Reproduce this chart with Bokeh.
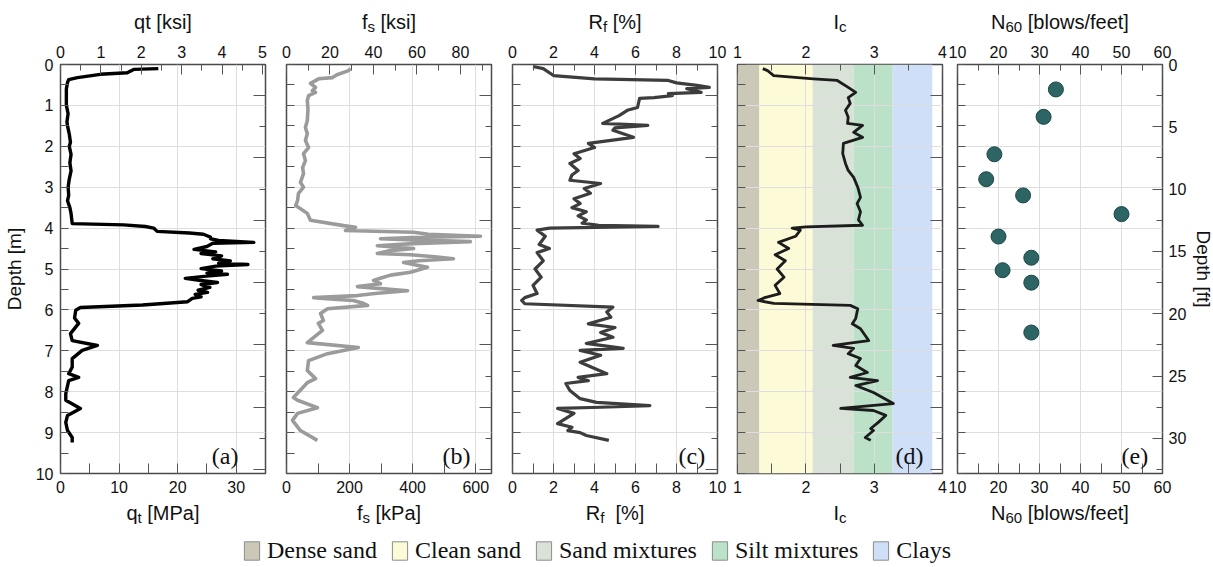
from bokeh.plotting import figure
from bokeh.models import (Range1d, LinearAxis, FixedTicker, Label, Legend, LegendItem,
                          CustomJSTickFormatter, ColumnDataSource)
from bokeh.core.properties import value
from bokeh.layouts import row, column
from bokeh.embed import file_html
from bokeh.resources import INLINE

# ---------------- data ----------------
qt_depth = [0.10, 0.12, 0.20, 0.24, 0.32, 0.37, 0.44, 0.60, 0.80, 1.00, 1.20, 1.40, 1.50, 1.70,
            1.90, 2.00, 2.20, 2.40, 2.60, 2.80, 3.00, 3.20, 3.33, 3.50, 3.64, 3.89, 3.92, 3.96,
            4.00, 4.08, 4.12, 4.15, 4.22, 4.26, 4.30, 4.35, 4.37, 4.45, 4.52, 4.58, 4.62, 4.68,
            4.75, 4.80, 4.86, 4.89, 4.93, 4.99, 5.05, 5.10, 5.13, 5.18, 5.23, 5.28, 5.33, 5.38,
            5.45, 5.52, 5.57, 5.62, 5.68, 5.72, 5.80, 5.88, 5.94, 6.01, 6.20, 6.33, 6.58, 6.75,
            6.87, 6.99, 7.19, 7.40, 7.56, 7.65, 7.73, 8.05, 8.21, 8.41, 8.58, 8.75, 8.95, 9.12, 9.24]
qt_mpa = [16.7, 12.5, 11.4, 6.8, 2.9, 1.4, 1.2, 1.0, 1.0, 1.0, 1.3, 1.1, 1.2, 1.5,
          1.7, 1.5, 1.8, 1.6, 1.8, 1.5, 1.3, 1.4, 1.2, 1.6, 1.8, 2.0, 10.8, 14.5,
          15.9, 16.5, 22.0, 24.4, 25.6, 25.6, 27.0, 33.0, 26.0, 25.0, 22.8, 26.5, 24.0, 27.5,
          26.0, 29.0, 27.0, 32.0, 26.5, 24.0, 27.5, 25.0, 28.5, 24.5, 21.3, 24.0, 26.8, 24.0,
          25.5, 23.5, 25.1, 23.0, 24.0, 22.5, 21.7, 14.0, 3.4, 2.6, 2.4, 3.1, 1.7, 2.0,
          6.3, 3.7, 2.0, 2.0, 1.4, 3.1, 1.4, 0.9, 0.9, 3.4, 1.2, 0.9, 1.2, 2.0, 2.0]

fs_depth = [0.10, 0.15, 0.25, 0.32, 0.35, 0.46, 0.56, 0.64, 0.68, 0.76, 0.88, 1.10, 1.37, 1.54,
            1.69, 1.86, 2.03, 2.18, 2.35, 2.52, 2.67, 2.88, 3.00, 3.15, 3.33, 3.45, 3.64, 3.81,
            3.94, 3.98, 4.06, 4.10, 4.15, 4.20, 4.23, 4.26, 4.30, 4.33, 4.38, 4.43, 4.47, 4.50,
            4.55, 4.62, 4.65, 4.70, 4.75, 4.80, 4.84, 4.90, 4.96, 5.02, 5.08, 5.15, 5.22, 5.28,
            5.36, 5.43, 5.48, 5.53, 5.60, 5.65, 5.70, 5.74, 5.77, 5.83, 5.89, 5.97, 6.09, 6.26,
            6.33, 6.50, 6.80, 6.92, 7.07, 7.24, 7.48, 7.68, 7.78, 8.14, 8.21, 8.39, 8.53, 8.70,
            8.95, 9.19]
fs_kpa = [203, 197, 160, 146, 102, 76, 92, 82, 92, 70, 66, 68, 66, 60,
          66, 60, 70, 54, 60, 51, 54, 44, 54, 38, 35, 29, 66, 76,
          181, 219, 187, 403, 450, 615, 400, 298, 450, 583, 400, 288, 350, 403,
          330, 288, 393, 470, 529, 420, 371, 410, 447, 420, 393, 330, 300, 276,
          298, 225, 300, 384, 280, 225, 86, 150, 212, 240, 257, 130, 108, 117,
          101, 114, 66, 228, 130, 70, 66, 92, 66, 22, 35, 98, 35, 19,
          44, 98]

rf_depth = [0.05, 0.10, 0.27, 0.35, 0.39, 0.45, 0.51, 0.56, 0.59, 0.68, 0.71, 0.76, 0.81, 0.83,
            1.05, 1.12, 1.25, 1.44, 1.49, 1.55, 1.61, 1.78, 1.93, 2.03, 2.18, 2.30, 2.42, 2.59,
            2.70, 2.83, 2.91, 3.03, 3.15, 3.28, 3.40, 3.50, 3.60, 3.70, 3.80, 3.88, 3.93, 3.96,
            4.00, 4.05, 4.20, 4.40, 4.50, 4.60, 4.80, 5.00, 5.20, 5.40, 5.60, 5.70, 5.77, 5.85,
            5.93, 6.05, 6.18, 6.34, 6.43, 6.55, 6.67, 6.82, 6.94, 6.99, 7.11, 7.28, 7.56, 7.65,
            7.73, 7.80, 7.97, 8.17, 8.26, 8.34, 8.38, 8.41, 8.53, 8.78, 8.87, 8.95, 9.00, 9.07, 9.19]
rf_pct = [1.0, 1.5, 2.0, 4.0, 7.6, 8.0, 9.0, 9.6, 8.5, 9.2, 7.6, 7.8, 6.9, 6.2,
          6.1, 5.6, 5.2, 4.4, 6.6, 5.0, 4.9, 5.9, 3.7, 4.0, 3.0, 3.3, 2.8, 3.2,
          2.9, 2.8, 4.3, 3.5, 3.8, 3.0, 3.3, 2.9, 3.6, 3.2, 3.6, 3.4, 4.2, 7.1,
          1.8, 1.2, 1.6, 1.3, 1.8, 1.2, 1.5, 1.1, 1.4, 1.0, 1.2, 0.6, 0.45, 0.6,
          4.9, 4.6, 4.8, 3.7, 5.0, 4.3, 4.9, 3.6, 5.4, 3.3, 4.3, 3.3, 4.6, 3.2,
          3.7, 2.6, 2.8, 3.3, 4.1, 6.7, 4.3, 2.2, 3.0, 2.2, 2.9, 2.7, 3.3, 3.6, 4.7]

ic_depth = [0.10, 0.15, 0.27, 0.35, 0.39, 0.56, 0.68, 0.81, 0.95, 1.12, 1.29, 1.44, 1.49, 1.66,
            1.78, 1.93, 2.18, 2.42, 2.59, 2.76, 3.00, 3.25, 3.40, 3.60, 3.80, 3.93, 3.97, 4.00,
            4.05, 4.20, 4.35, 4.50, 4.65, 4.80, 5.00, 5.20, 5.40, 5.60, 5.70, 5.77, 5.84, 5.89,
            5.97, 6.21, 6.34, 6.46, 6.75, 6.87, 6.94, 7.07, 7.19, 7.36, 7.53, 7.65, 7.73, 7.85,
            8.02, 8.29, 8.41, 8.46, 8.58, 8.75, 8.90, 8.95, 9.12, 9.19]
ic_val = [1.37, 1.44, 1.53, 2.11, 2.46, 2.62, 2.73, 2.62, 2.65, 2.58, 2.62, 2.61, 2.83, 2.70,
          2.83, 2.55, 2.54, 2.58, 2.62, 2.70, 2.76, 2.80, 2.75, 2.80, 2.77, 2.83, 2.00, 1.80,
          1.92, 1.85, 1.60, 1.75, 1.55, 1.70, 1.58, 1.68, 1.55, 1.62, 1.40, 1.30, 1.53, 2.65,
          2.76, 2.73, 2.68, 2.80, 2.92, 2.40, 2.70, 2.62, 2.80, 2.73, 2.90, 2.65, 3.05, 2.73,
          2.99, 3.28, 2.51, 2.99, 3.17, 3.06, 2.95, 2.99, 2.87, 2.95]

n60_depth_ft = [2.0, 4.2, 7.2, 9.2, 10.5, 12.0, 13.8, 15.5, 16.5, 17.5, 21.5]
n60_blows = [34, 31, 19, 17, 26, 50, 20, 28, 21, 28, 28]

zone_names = ["Dense sand", "Clean sand", "Sand mixtures", "Silt mixtures", "Clays"]
zone_ic_lo = [1.0, 1.32, 2.10, 2.70, 3.27]
zone_ic_hi = [1.32, 2.10, 2.70, 3.27, 3.85]
zone_colors = ["#cbc8b8", "#fdfbd7", "#d8e2d6", "#bbe1c8", "#d0dff8"]

# panel titles: (text, is_subscript) segments
top_titles = [[("qt [ksi]", False)],
              [("f", False), ("s", True), (" [ksi]", False)],
              [("R", False), ("f", True), (" [%]", False)],
              [("I", False), ("c", True)],
              [("N", False), ("60", True), (" [blows/feet]", False)]]
bottom_titles = [[("q", False), ("t", True), (" [MPa]", False)],
                 [("f", False), ("s", True), (" [kPa]", False)],
                 [("R", False), ("f", True), ("  [%]", False)],
                 [("I", False), ("c", True)],
                 [("N", False), ("60", True), (" [blows/feet]", False)]]

DEPTH_MAX_M = 10.0
M_TO_FT = 3.28084
MPA_PER_KSI = 6.895

# ---------------- layout / styling ----------------
W_TOTAL = 1213
TOP_H, BOT_H = 37, 67
FW, FH = 205, 409
B_TOP, B_BOT = 27, 27
FRAME_LEFTS = [60, 286, 512, 737, 957]
SANS = "Liberation Sans"
SERIF = "Liberation Serif"
TICK_C = "#555555"
GRID_C = "#dedede"
TXT_C = "#111111"

CW = {' ': 0.278, '[': 0.278, ']': 0.278, '%': 0.889, '/': 0.278, 'q': 0.556, 't': 0.278,
      'k': 0.5, 's': 0.5, 'i': 0.222, 'M': 0.833, 'P': 0.667, 'a': 0.556, 'f': 0.278,
      'R': 0.722, 'I': 0.278, 'c': 0.5, 'N': 0.722, '6': 0.556, '0': 0.556, 'b': 0.556,
      'l': 0.222, 'o': 0.556, 'w': 0.722, 'e': 0.556}


def text_w(s, size):
    return sum(CW.get(ch, 0.55) for ch in s) * size


def style_axis(ax, ticks, minor, tin=10, mtin=6):
    ax.ticker = FixedTicker(ticks=ticks, minor_ticks=minor)
    ax.axis_line_color = None
    ax.major_tick_in = tin
    ax.major_tick_out = 0
    ax.minor_tick_in = mtin
    ax.minor_tick_out = 0
    ax.major_tick_line_color = TICK_C
    ax.minor_tick_line_color = TICK_C
    ax.major_label_text_font = SANS
    ax.major_label_text_font_size = "16px"
    ax.major_label_text_color = TXT_C
    ax.major_label_standoff = 7


def hide_labels(ax):
    ax.formatter = CustomJSTickFormatter(code="return ''")
    ax.major_label_text_font_size = "1px"
    ax.major_label_standoff = 0


def title_source(titles, ybase, size=20, sub=15, sub_drop=5):
    xs, ys, txt, fsz = [], [], [], []
    for segs, fl in zip(titles, FRAME_LEFTS):
        widths = [text_w(t, sub if s else size) for t, s in segs]
        sx = fl + FW / 2.0 - sum(widths) / 2.0
        for (t, s), w in zip(segs, widths):
            fs_ = sub if s else size
            stripped = t.lstrip(" ")
            lead = text_w(t[:len(t) - len(stripped)], fs_)
            xs.append(sx + lead)
            ys.append(ybase + (sub_drop if s else 0))
            txt.append(stripped)
            fsz.append(f"{fs_}px")
            sx += w
    return ColumnDataSource(dict(x=xs, y=ys, text=txt, size=fsz))


def strip(height):
    s = figure(width=W_TOTAL, height=height, x_range=Range1d(0, W_TOTAL),
               y_range=Range1d(height, 0), toolbar_location=None, output_backend="svg",
               min_border=0, x_axis_location=None, y_axis_location=None)
    s.grid.visible = False
    s.outline_line_color = None
    return s


m_ticks = list(range(0, 11))
m_minor = [i + 0.5 for i in range(10)]
ft_major = [2.5 + 5 * i for i in range(7)]
ft_minor = [5.0 * i for i in range(1, 7)]


def make_panel(x0, x1, bt, bm, top_rng, tt, tm, bl, br, tag, tag_frac, grid_ticks,
               left_labels=False, right_ft=False):
    p = figure(frame_width=FW, frame_height=FH, x_range=Range1d(x0, x1),
               y_range=Range1d(DEPTH_MAX_M, 0), toolbar_location=None, output_backend="svg",
               min_border_left=bl, min_border_right=br, min_border_top=B_TOP,
               min_border_bottom=B_BOT, x_axis_location="below", y_axis_location="left")
    p.background_fill_color = "white"
    p.border_fill_color = "white"
    p.outline_line_color = "#4a4a4a"
    p.outline_line_width = 1.5
    p.extra_x_ranges = {"top": Range1d(*top_rng)}
    p.extra_y_ranges = {"ft": Range1d(DEPTH_MAX_M * M_TO_FT, 0)}

    style_axis(p.xaxis[0], bt, bm, 10, 10)
    tx = LinearAxis(x_range_name="top")
    style_axis(tx, tt, tm, 10, 6)
    p.add_layout(tx, "above")

    ly = p.yaxis[0]
    style_axis(ly, m_ticks, m_minor, 8, 8)
    if left_labels:
        ly.axis_label = "Depth [m]"
        ly.axis_label_text_font = SANS
        ly.axis_label_text_font_size = "19px"
        ly.axis_label_text_font_style = "normal"
        ly.axis_label_standoff = 8
        ly.axis_label_text_color = TXT_C
    else:
        hide_labels(ly)

    ry = LinearAxis(y_range_name="ft")
    if right_ft:
        style_axis(ry, [0, 5, 10, 15, 20, 25, 30], [2.5 + 5 * i for i in range(7)], 10, 6)
        ry.major_label_standoff = 6
        ry.axis_label = "Depth [ft]"
        ry.axis_label_text_font = SANS
        ry.axis_label_text_font_size = "19px"
        ry.axis_label_text_font_style = "normal"
        ry.axis_label_standoff = 4
        ry.axis_label_text_color = TXT_C
    else:
        style_axis(ry, ft_major, ft_minor, 12, 6)
        hide_labels(ry)
    p.add_layout(ry, "right")

    p.xgrid.ticker = FixedTicker(ticks=grid_ticks)
    p.ygrid.ticker = FixedTicker(ticks=m_ticks)
    p.grid.grid_line_color = GRID_C
    p.grid.grid_line_width = 1

    p.add_layout(Label(x=x0 + tag_frac * (x1 - x0), y=9.58, text=tag, text_align="right",
                       text_baseline="middle", text_font=SERIF, text_font_size="24px",
                       text_color=TXT_C))
    return p


# (a) qt
pa = make_panel(0, 35, [0, 10, 20, 30], [5, 15, 25], (0, 35 / MPA_PER_KSI), [0, 1, 2, 3, 4, 5],
                [0.5, 1.5, 2.5, 3.5, 4.5], 60, 10, "(a)", 0.868, [10, 20, 30], left_labels=True)
pa.line(qt_mpa, qt_depth, line_color="#000000", line_width=3.4, line_join="round")

# (b) fs
pb = make_panel(0, 650, [0, 200, 400, 600], [100, 300, 500], (0, 650 / MPA_PER_KSI),
                [0, 20, 40, 60, 80], [10, 30, 50, 70, 90], 11, 10, "(b)", 0.898, [200, 400, 600])
pb.line(fs_kpa, fs_depth, line_color="#9b9b9b", line_width=3.6, line_join="round")

# (c) Rf
pc = make_panel(0, 10, [0, 2, 4, 6, 8, 10], [1, 3, 5, 7, 9], (0, 10), [0, 2, 4, 6, 8, 10],
                [1, 3, 5, 7, 9], 11, 10, "(c)", 0.94, [2, 4, 6, 8])
pc.line(rf_pct, rf_depth, line_color="#3d3d3d", line_width=3.2, line_join="round")

# (d) Ic
pd_ = make_panel(1, 4, [1, 2, 3, 4], [1.5, 2.5, 3.5], (1, 4), [1, 2, 3, 4], [1.5, 2.5, 3.5],
                 10, 5, "(d)", 0.907, [2, 3])
pd_.quad(left=zone_ic_lo, right=zone_ic_hi, bottom=0, top=DEPTH_MAX_M, fill_color=zone_colors,
         line_color=None, level="image")
pd_.line(ic_val, ic_depth, line_color="#1c1c1c", line_width=2.8, line_join="round")

# (e) N60
pe = make_panel(10, 60, [10, 20, 30, 40, 50, 60], [15, 25, 35, 45, 55], (10, 60),
                [10, 20, 30, 40, 50, 60], [15, 25, 35, 45, 55], 10, 51, "(e)", 0.93,
                [20, 30, 40, 50], right_ft=True)
pe.scatter(n60_blows, n60_depth_ft, y_range_name="ft", size=15, fill_color="#2d6565",
           line_color="#1d4646", line_width=1)

# ---------------- title strips ----------------
top = strip(TOP_H)
top.text(x="x", y="y", text="text", text_font_size="size", source=title_source(top_titles, 21),
         text_font=value(SANS), text_color=TXT_C, text_baseline="middle", text_align="left")

bot = strip(BOT_H)
bot.text(x="x", y="y", text="text", text_font_size="size",
         source=title_source(bottom_titles, 12), text_font=value(SANS), text_color=TXT_C,
         text_baseline="middle", text_align="left")

# legend (swatch renderers kept outside the visible range; only the legend shows)
bot.extra_x_ranges = {"hidden": Range1d(100, 101)}
items = []
for name, lo, hi, col in zip(zone_names, zone_ic_lo, zone_ic_hi, zone_colors):
    r = bot.quad(left=[lo], right=[hi], bottom=[0], top=[1], fill_color=col,
                 line_color="#8c8c8c", line_width=1, x_range_name="hidden")
    items.append(LegendItem(label=name, renderers=[r]))
legend = Legend(items=items, orientation="horizontal", location=(242, 3), glyph_width=19,
                glyph_height=23, label_standoff=6, spacing=13, padding=0, margin=0,
                border_line_color=None, background_fill_alpha=0,
                label_text_font=SERIF, label_text_font_size="24px", label_text_color=TXT_C)
bot.add_layout(legend)

layout = column(top, row(pa, pb, pc, pd_, pe), bot)
open("out.html", "w").write(file_html(layout, INLINE))
